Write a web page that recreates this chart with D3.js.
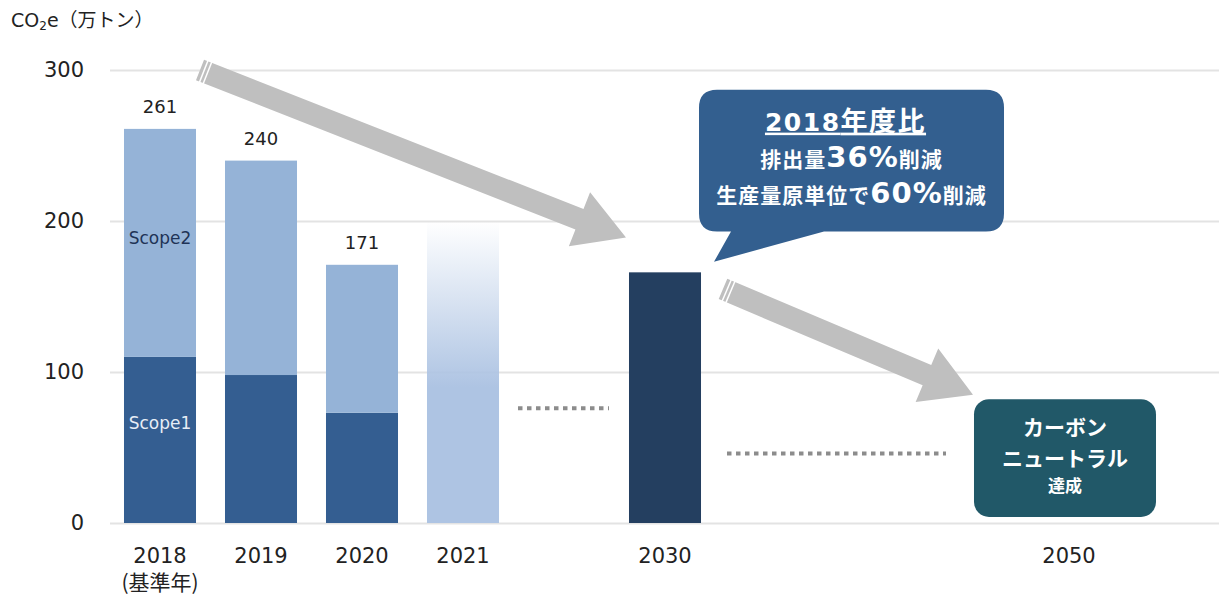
<!DOCTYPE html>
<html>
<head>
<meta charset="utf-8">
<script src="https://cdn.jsdelivr.net/npm/d3@7"></script>
<style>
  body { margin: 0; background: #fff; }
  text { font-family: 'DejaVu Sans', 'Noto Sans CJK JP', sans-serif; }
  .jp { font-family: 'Noto Sans CJK JP', sans-serif; }
  .num { font-family: 'DejaVu Sans', sans-serif; }
</style>
</head>
<body>
<div id="wrapper"></div>
<script>
'use strict';

//#region DATASET
const slots = ['2018', '2019', '2020', '2021', 'gapA', '2030', 'gapB', 'gapC', 'gapD', '2050'];
const tickYears = ['2018', '2019', '2020', '2021', '2030', '2050'];
const actualYears = ['2018', '2019', '2020'];
const scope1 = [110, 98, 73];
const scope2 = [151, 142, 98];
const totals = [261, 240, 171];
const forecastYear = '2021';
const forecastValue = 200;
const targetYear = '2030';
const targetValue = 166;
const yTicks = [0, 100, 200, 300];
//#endregion DATASET

function draw () {
  const width = 1219;
  const height = 595;

  const svg = d3.select('#wrapper').append('svg')
    .attr('width', width)
    .attr('height', height);

  //#region SCALES
  const xScale = d3.scaleBand()
    .domain(slots)
    .range([109.5, 1119.5])
    .paddingInner(0.287)
    .paddingOuter(0.1435);
  const bw = xScale.bandwidth();

  const yScale = d3.scaleLinear()
    .domain([0, 300])
    .range([523, 70]);
  //#endregion SCALES

  const defs = svg.append('defs');
  const grad = defs.append('linearGradient')
    .attr('id', 'fade')
    .attr('x1', 0).attr('y1', 0).attr('x2', 0).attr('y2', 1);
  grad.append('stop').attr('offset', '0%').attr('stop-color', '#aec4e3').attr('stop-opacity', 0);
  grad.append('stop').attr('offset', '55%').attr('stop-color', '#aec4e3').attr('stop-opacity', 1);
  grad.append('stop').attr('offset', '100%').attr('stop-color', '#aec4e3').attr('stop-opacity', 1);

  //#region GRID + AXES
  const grid = svg.append('g')
    .attr('transform', 'translate(110,0)')
    .call(d3.axisLeft(yScale).tickValues(yTicks).tickSize(-(width - 110)).tickFormat(''));
  grid.select('.domain').remove();
  grid.selectAll('line').attr('stroke', '#e3e3e3').attr('stroke-width', 2);

  const yAxis = svg.append('g')
    .attr('transform', 'translate(110,0)')
    .call(d3.axisLeft(yScale).tickValues(yTicks).tickSize(0).tickPadding(26));
  yAxis.select('.domain').remove();
  yAxis.selectAll('text')
    .style('font-size', '21px')
    .attr('fill', '#222')
    .style('font-family', "'DejaVu Sans', sans-serif");

  const xAxis = svg.append('g')
    .attr('transform', `translate(0,${yScale(0)})`)
    .call(d3.axisBottom(xScale).tickValues(tickYears).tickSize(0).tickPadding(25));
  xAxis.select('.domain').remove();
  xAxis.selectAll('text')
    .style('font-size', '21px')
    .attr('fill', '#222')
    .style('font-family', "'DejaVu Sans', sans-serif");

  svg.append('text')
    .attr('class', 'jp')
    .attr('x', xScale('2018') + bw / 2)
    .attr('y', 590)
    .attr('text-anchor', 'middle')
    .attr('fill', '#222')
    .style('font-size', '21px')
    .text('(基準年)');

  const title = svg.append('text')
    .attr('x', 11)
    .attr('y', 27)
    .attr('fill', '#222')
    .style('font-size', '19px');
  title.append('tspan').text('CO');
  title.append('tspan').attr('dy', 3).style('font-size', '12px').text('2');
  title.append('tspan').attr('dy', -3).text('e');
  title.append('tspan').attr('class', 'jp').text('（万トン）');
  //#endregion GRID + AXES

  //#region BARS
  const actual = actualYears.map((yr, i) => ({ yr, s1: scope1[i], s2: scope2[i], total: totals[i] }));

  svg.append('g').selectAll('rect').data(actual).join('rect')
    .attr('x', d => xScale(d.yr))
    .attr('y', d => yScale(d.s1))
    .attr('width', bw)
    .attr('height', d => yScale(0) - yScale(d.s1))
    .attr('fill', '#345e91');

  svg.append('g').selectAll('rect').data(actual).join('rect')
    .attr('x', d => xScale(d.yr))
    .attr('y', d => yScale(d.s1 + d.s2))
    .attr('width', bw)
    .attr('height', d => yScale(d.s1) - yScale(d.s1 + d.s2))
    .attr('fill', '#95b3d7');

  svg.append('g').selectAll('text').data(actual).join('text')
    .attr('x', d => xScale(d.yr) + bw / 2)
    .attr('y', d => yScale(d.total) - 16)
    .attr('text-anchor', 'middle')
    .attr('fill', '#222')
    .style('font-size', '18px')
    .text(d => d.total);

  svg.append('rect')
    .attr('x', xScale(forecastYear))
    .attr('y', yScale(forecastValue))
    .attr('width', bw)
    .attr('height', yScale(0) - yScale(forecastValue))
    .attr('fill', 'url(#fade)');

  svg.append('rect')
    .attr('x', xScale(targetYear))
    .attr('y', yScale(targetValue))
    .attr('width', bw)
    .attr('height', yScale(0) - yScale(targetValue))
    .attr('fill', '#243f60');

  svg.append('text')
    .attr('x', xScale('2018') + bw / 2)
    .attr('y', yScale(185))
    .attr('text-anchor', 'middle')
    .attr('fill', '#1f3356')
    .style('font-size', '17px')
    .text('Scope2');

  svg.append('text')
    .attr('x', xScale('2018') + bw / 2)
    .attr('y', yScale(62))
    .attr('text-anchor', 'middle')
    .attr('fill', '#e6edf6')
    .style('font-size', '17px')
    .text('Scope1');
  //#endregion BARS

  //#region DOTTED CONTINUATIONS
  const dots = [
    { x1: xScale('gapA') - 10, x2: xScale('gapA') + bw + 9, v: 76 },
    { x1: xScale('gapB') - 3, x2: xScale('gapD') + 14, v: 46 }
  ];
  svg.append('g').selectAll('line').data(dots).join('line')
    .attr('x1', d => d.x1)
    .attr('x2', d => d.x2)
    .attr('y1', d => yScale(d.v))
    .attr('y2', d => yScale(d.v))
    .attr('stroke', '#8c8c8c')
    .attr('stroke-width', 4)
    .attr('stroke-dasharray', '4.5 4.5');
  //#endregion

  //#region ARROWS
  function arrow (x0, y0, x1, y1, bodyW, headW, headL) {
    const len = Math.hypot(x1 - x0, y1 - y0);
    const ux = (x1 - x0) / len, uy = (y1 - y0) / len;
    const nx = -uy, ny = ux;
    const bx = x1 - ux * headL, by = y1 - uy * headL;
    const pts = [
      [x0 + nx * bodyW / 2, y0 + ny * bodyW / 2],
      [bx + nx * bodyW / 2, by + ny * bodyW / 2],
      [bx + nx * headW / 2, by + ny * headW / 2],
      [x1, y1],
      [bx - nx * headW / 2, by - ny * headW / 2],
      [bx - nx * bodyW / 2, by - ny * bodyW / 2],
      [x0 - nx * bodyW / 2, y0 - ny * bodyW / 2]
    ];
    svg.append('path')
      .attr('d', d3.line()(pts) + 'Z')
      .attr('fill', '#bfbfbf');
    // break marks at tail
    [4, 8].forEach(off => {
      const cx = x0 + ux * off, cy = y0 + uy * off;
      svg.append('line')
        .attr('x1', cx + nx * (bodyW / 2 + 1)).attr('y1', cy + ny * (bodyW / 2 + 1))
        .attr('x2', cx - nx * (bodyW / 2 + 1)).attr('y2', cy - ny * (bodyW / 2 + 1))
        .attr('stroke', '#fff')
        .attr('stroke-width', 1.5);
    });
  }

  arrow(xScale('2018') + bw + 4, yScale(300), xScale('2030') - 3, yScale(189), 22, 58, 50);
  arrow(xScale('2030') + bw + 22, yScale(155), xScale('2050') - 60, yScale(85), 22, 58, 50);
  //#endregion ARROWS

  //#region CALLOUT
  const cL = xScale('2030') + bw - 2;
  const cR = xScale('gapD') + bw;
  const cT = yScale(287);
  const cB = yScale(193);
  const r = 18;
  const tipX = xScale('2030') + bw + 13;
  const tipY = yScale(173);
  const callout = `M${cL + r},${cT} H${cR - r} Q${cR},${cT} ${cR},${cT + r} V${cB - r} Q${cR},${cB} ${cR - r},${cB}
    H${cL + 125} L${tipX},${tipY} L${cL + 32},${cB} H${cL + r} Q${cL},${cB} ${cL},${cB - r} V${cT + r} Q${cL},${cT} ${cL + r},${cT} Z`;
  svg.append('path').attr('d', callout).attr('fill', '#335f8f');

  const cx = (cL + cR) / 2;
  const l1 = svg.append('text')
    .attr('class', 'jp')
    .attr('x', cx - 6)
    .attr('y', cT + 41)
    .attr('text-anchor', 'middle')
    .attr('fill', '#fff')
    .style('font-weight', 'bold')
    .style('letter-spacing', '1.5px')
    .style('text-decoration', 'underline');
  l1.append('tspan').attr('class', 'num').style('font-size', '25px').text('2018');
  l1.append('tspan').style('font-size', '27px').text('年度比');

  const l2 = svg.append('text')
    .attr('class', 'jp')
    .attr('x', cx)
    .attr('y', cT + 77)
    .attr('text-anchor', 'middle')
    .attr('fill', '#fff')
    .style('font-weight', 'bold')
    .style('letter-spacing', '1px')
    .style('font-size', '21px');
  l2.append('tspan').text('排出量');
  l2.append('tspan').attr('class', 'num').style('font-size', '29px').text('36%');
  l2.append('tspan').text('削減');

  const l3 = svg.append('text')
    .attr('class', 'jp')
    .attr('x', cx)
    .attr('y', cT + 113)
    .attr('text-anchor', 'middle')
    .attr('fill', '#fff')
    .style('font-weight', 'bold')
    .style('letter-spacing', '1px')
    .style('font-size', '21px');
  l3.append('tspan').text('生産量原単位で');
  l3.append('tspan').attr('class', 'num').style('font-size', '29px').text('60%');
  l3.append('tspan').text('削減');
  //#endregion CALLOUT

  //#region CARBON NEUTRAL BOX
  const bL = xScale('2050') - 59;
  const bR = xScale('2050') + bw + 51;
  const bT = yScale(82);
  const bB = yScale(4);
  svg.append('rect')
    .attr('x', bL).attr('y', bT)
    .attr('width', bR - bL).attr('height', bB - bT)
    .attr('rx', 15)
    .attr('fill', '#215868');

  const bx = (bL + bR) / 2;
  [['カーボン', 36, 21], ['ニュートラル', 67, 21], ['達成', 93, 17]].forEach(([t, dy, fs]) => {
    svg.append('text')
      .attr('class', 'jp')
      .attr('x', bx)
      .attr('y', bT + dy)
      .attr('text-anchor', 'middle')
      .attr('fill', '#fff')
      .style('font-weight', 'bold')
      .style('font-size', fs + 'px')
      .text(t);
  });
  //#endregion
}

draw();
</script>
</body>
</html>
